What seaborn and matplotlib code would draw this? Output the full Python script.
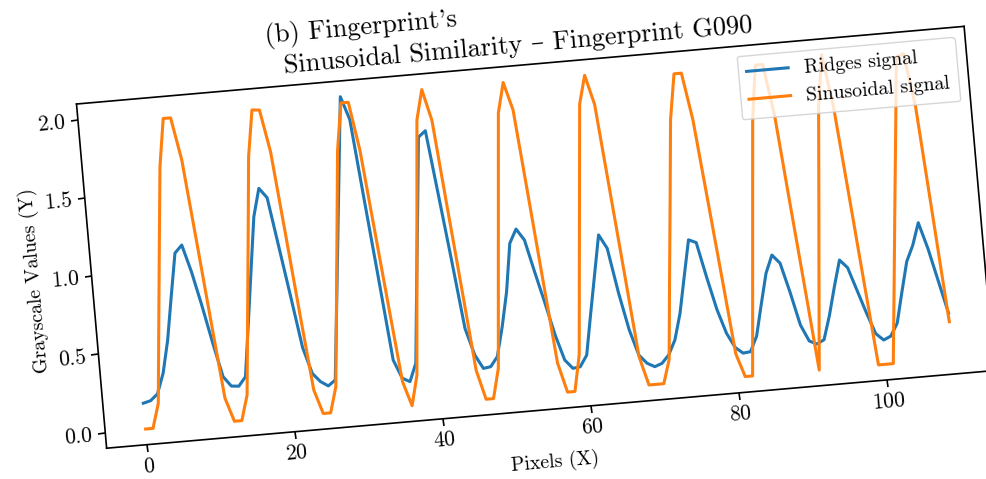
import matplotlib
matplotlib.use("Agg")
import matplotlib.pyplot as plt
import numpy as np
import seaborn as sns
from matplotlib.backends.backend_agg import RendererAgg
from matplotlib.patches import Rectangle
from matplotlib.transforms import Affine2D

# the page in the reference was scanned a bit crooked, so the whole
# figure is drawn turned by TILT degrees around PIVOT (pixels)
TILT = 5.0
PIVOT = (536.0, 242.5)

pixels = np.arange(110)

ridges = [
    0.165, 0.177, 0.216, 0.344, 0.552, 0.83, 1.10, 1.147, 0.97, 0.75,
    0.51, 0.289, 0.225, 0.22, 0.276, 0.61, 0.95, 1.287, 1.464, 1.40,
    1.08, 0.76, 0.43, 0.26, 0.204, 0.172, 0.206, 0.65, 1.10, 1.55,
    2.0, 1.85, 1.33, 0.82, 0.30, 0.18, 0.154, 0.268, 0.75, 1.22,
    1.70, 1.737, 1.32, 0.90, 0.46, 0.287, 0.197, 0.204, 0.264, 0.45,
    0.67, 0.976, 1.063, 0.989, 0.78, 0.58, 0.37, 0.205, 0.148, 0.154,
    0.224, 0.48, 0.73, 0.98, 0.89, 0.60, 0.36, 0.195, 0.139, 0.113,
    0.13, 0.18, 0.271, 0.437, 0.67, 0.899, 0.877, 0.65, 0.44, 0.285,
    0.19, 0.15, 0.155, 0.25, 0.45, 0.644, 0.756, 0.70, 0.51, 0.297,
    0.19, 0.167, 0.19, 0.34, 0.52, 0.687, 0.634, 0.485, 0.336, 0.20,
    0.155, 0.176, 0.254, 0.45, 0.64, 0.74, 0.88, 0.71, 0.50, 0.29,
]

sinusoid = [
    0.0, 0.0, 0.156, 0.66, 1.16, 1.656, 1.96, 1.96, 1.687, 1.18,
    0.66, 0.152, 0.0, 0.0, 0.159, 0.66, 1.16, 1.67, 1.965, 1.96,
    1.69, 1.18, 0.66, 0.155, 0.0, 0.0, 0.163, 0.66, 1.16, 1.66,
    1.96, 1.96, 1.65, 1.15, 0.65, 0.157, 0.0, 0.19, 0.73, 1.27,
    1.81, 2.0, 1.80, 1.26, 0.73, 0.19, 0.0, 0.0, 0.19, 0.73,
    1.27, 1.81, 2.0, 1.82, 1.28, 0.73, 0.19, 0.0, 0.0, 0.23,
    0.76, 1.29, 1.82, 2.0, 1.81, 1.27, 0.73, 0.185, 0.0, 0.0,
    0.0, 0.15, 0.66, 1.16, 1.67, 1.96, 1.96, 1.656, 1.16, 0.66,
    0.15, 0.0, 0.0, 0.54, 1.08, 1.62, 1.97, 1.97, 1.64, 1.09,
    0.55, 0.0, 0.56, 1.11, 1.67, 2.0, 1.66, 1.11, 0.55, 0.0,
    0.0, 0.0, 0.48, 0.97, 1.45, 1.94, 1.96, 1.62, 0.93, 0.235,
]

labels = ["Ridges signal", "Sinusoidal signal"]
colors = ["#1f77b4", "#ff7f0e"]


def tilt(renderer):
    rot = Affine2D().rotate_deg_around(PIVOT[0], PIVOT[1], TILT)
    spin = Affine2D().rotate_deg(TILT)
    draw_path = renderer.draw_path
    draw_markers = renderer.draw_markers
    draw_text = renderer.draw_text

    def unclip(gc):
        gc.set_clip_rectangle(None)
        gc.set_clip_path(None)

    def path(gc, p, trans, rgbFace=None):
        unclip(gc)
        draw_path(gc, p, (trans + rot).frozen(), rgbFace)

    def markers(gc, mpath, mtrans, p, trans, rgbFace=None):
        unclip(gc)
        draw_markers(gc, mpath, (mtrans + spin).frozen(), p,
                     (trans + rot).frozen(), rgbFace)

    def text(gc, x, y, s, prop, angle, ismath=False, mtext=None):
        unclip(gc)
        h = renderer.height
        xr, yr = rot.transform((x, h - y))
        draw_text(gc, xr, h - yr, s, prop, angle + TILT,
                  ismath=ismath, mtext=mtext)

    renderer.draw_path = path
    renderer.draw_markers = markers
    renderer.draw_text = text


_agg_init = RendererAgg.__init__


def _tilted_init(self, width, height, dpi):
    _agg_init(self, width, height, dpi)
    tilt(self)


RendererAgg.__init__ = _tilted_init

plt.rcParams["font.family"] = ["cmr10", "DejaVu Serif"]
plt.rcParams["mathtext.fontset"] = "cm"
plt.rcParams["axes.formatter.use_mathtext"] = True

fig = plt.figure(figsize=(9.87, 4.79), dpi=100)
# white sheet bigger than the canvas so the turned corners stay white
fig.add_artist(Rectangle((-0.5, -0.5), 2, 2, transform=fig.transFigure,
                         facecolor="white", edgecolor="none", zorder=-100))
ax = fig.add_axes([0.0910, 0.1441, 0.9027, 0.7213])

sns.lineplot(x=pixels, y=ridges, color=colors[0], label=labels[0],
             linewidth=2.2, ax=ax)
sns.lineplot(x=pixels, y=sinusoid, color=colors[1], label=labels[1],
             linewidth=2.2, ax=ax)

ax.set_title("Sinusoidal Similarity \u2013 Fingerprint G090",
             fontsize=19, pad=9)
ax.set_xlabel("Pixels (X)", fontsize=14.3, labelpad=8)
ax.set_ylabel("Grayscale Values (Y)", fontsize=14.3, labelpad=4)
ax.tick_params(labelsize=15.5, length=4.8, width=1.2, pad=4)
for sp in ax.spines.values():
    sp.set_linewidth(1.2)
ax.legend(loc="upper right", fontsize=14.3, framealpha=0.8,
          borderpad=0.45, handlelength=2.1)

# caption of the sub-figure on the page (only its start shows in the crop)
fig.text(0.2869, 0.958, "(b) Fingerprint's", fontsize=19,
         ha="left", va="baseline")

fig.savefig("out.png", dpi=100)
